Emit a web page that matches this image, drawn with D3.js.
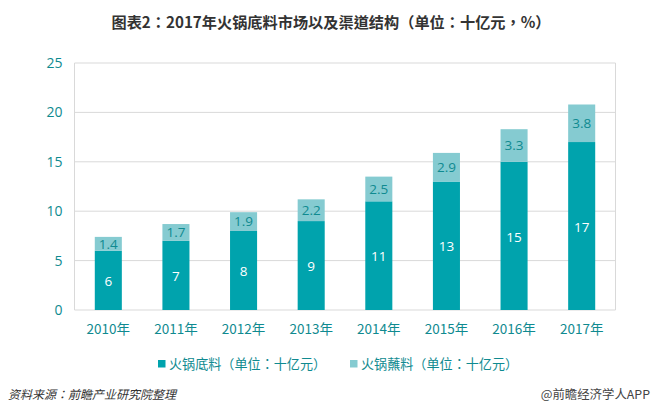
<!DOCTYPE html>
<html>
<head>
<meta charset="utf-8">
<script src="https://cdn.jsdelivr.net/npm/d3@7"></script>
<style>
  html, body { margin: 0; padding: 0; background: #fff; overflow: hidden; }
  svg { display: block; }
  text { font-family: "Noto Sans CJK TC", "Open Sans", sans-serif; }
</style>
</head>
<body>
<div id="chart"></div>
<script>
const years = ['2010年', '2011年', '2012年', '2013年', '2014年', '2015年', '2016年', '2017年'];
const baseValues = [6, 7, 8, 9, 11, 13, 15, 17];
const sauceValues = [1.4, 1.7, 1.9, 2.2, 2.5, 2.9, 3.3, 3.8];
const yTicks = [0, 5, 10, 15, 20, 25];
const legendLabels = ['火锅底料（单位：十亿元）', '火锅蘸料（单位：十亿元）'];
const chartTitle = '图表2：2017年火锅底料市场以及渠道结构（单位：十亿元，%）';
const sourceText = '资料来源：前瞻产业研究院整理';
const brandText = '@前瞻经济学人APP';

const width = 659, height = 413;
const margin = { top: 63, right: 43.5, bottom: 103, left: 74.5 };
const innerWidth = width - margin.left - margin.right;
const innerHeight = height - margin.top - margin.bottom;

const baseColor = '#00a3ad', sauceColor = '#85cbd1', tealText = '#0f8a90', gridColor = '#d9d9d9';

const svg = d3.select('#chart').append('svg').attr('width', width).attr('height', height);

svg.append('text')
  .attr('x', 331).attr('y', 28)
  .attr('text-anchor', 'middle')
  .attr('font-size', 15.2).attr('font-weight', 700).attr('fill', '#333')
  .text(chartTitle);

const g = svg.append('g').attr('transform', `translate(${margin.left},${margin.top})`);

const x = d3.scaleBand().domain(years).range([0, innerWidth]).paddingInner(0.6).paddingOuter(0.3);
const y = d3.scaleLinear().domain([0, 25]).range([innerHeight, 0]);

// gridlines + frame lines
g.selectAll('.grid').data(yTicks).enter().append('line')
  .attr('x1', 0).attr('x2', innerWidth)
  .attr('y1', d => y(d)).attr('y2', d => y(d))
  .attr('stroke', gridColor).attr('stroke-width', 1);
g.append('line').attr('y1', 0).attr('y2', innerHeight).attr('stroke', gridColor);
g.append('line').attr('x1', innerWidth).attr('x2', innerWidth)
  .attr('y1', 0).attr('y2', innerHeight).attr('stroke', gridColor);

// y axis labels
const yAxis = g.append('g').call(d3.axisLeft(y).tickValues(yTicks).tickSize(0).tickPadding(12));
yAxis.select('.domain').remove();
yAxis.selectAll('text').attr('font-size', 14).attr('fill', tealText)
  .style('font-family', '"Open Sans", sans-serif');

// x axis labels
const xAxis = g.append('g').attr('transform', `translate(0,${innerHeight})`)
  .call(d3.axisBottom(x).tickSize(0).tickPadding(14));
xAxis.select('.domain').remove();
xAxis.selectAll('text').attr('font-size', 13.5).attr('fill', tealText);

// bars
g.selectAll('.base').data(years).enter().append('rect')
  .attr('x', d => x(d)).attr('width', x.bandwidth())
  .attr('y', (d, i) => y(baseValues[i]))
  .attr('height', (d, i) => y(0) - y(baseValues[i]))
  .attr('fill', baseColor);
g.selectAll('.sauce').data(years).enter().append('rect')
  .attr('x', d => x(d)).attr('width', x.bandwidth())
  .attr('y', (d, i) => y(baseValues[i] + sauceValues[i]))
  .attr('height', (d, i) => y(baseValues[i]) - y(baseValues[i] + sauceValues[i]))
  .attr('fill', sauceColor);

// value labels
g.selectAll('.baseLabel').data(years).enter().append('text')
  .attr('x', d => x(d) + x.bandwidth() / 2)
  .attr('y', (d, i) => y(baseValues[i] / 2))
  .attr('dy', '0.42em').attr('text-anchor', 'middle')
  .attr('font-size', 13.5).attr('fill', '#fff')
  .style('font-family', '"Open Sans", sans-serif')
  .text((d, i) => baseValues[i]);
g.selectAll('.sauceLabel').data(years).enter().append('text')
  .attr('x', d => x(d) + x.bandwidth() / 2)
  .attr('y', (d, i) => y(baseValues[i] + sauceValues[i] / 2))
  .attr('dy', '0.36em').attr('text-anchor', 'middle')
  .attr('font-size', 13.5).attr('fill', tealText)
  .style('font-family', '"Open Sans", sans-serif')
  .text((d, i) => sauceValues[i]);

// legend
const legendX = [158, 350];
const legendColors = [baseColor, sauceColor];
const legend = svg.selectAll('.legend').data(legendLabels).enter().append('g')
  .attr('transform', (d, i) => `translate(${legendX[i]},364)`);
legend.append('rect').attr('y', -4).attr('width', 7.5).attr('height', 7.5)
  .attr('fill', (d, i) => legendColors[i]);
legend.append('text').attr('x', 11).attr('dy', '0.36em')
  .attr('font-size', 13.1).attr('fill', tealText)
  .text(d => d);

// footer
svg.append('text').attr('x', 8).attr('y', 399)
  .attr('font-size', 12).attr('font-style', 'italic').attr('fill', '#333')
  .text(sourceText);
svg.append('text').attr('x', 650).attr('y', 399).attr('text-anchor', 'end')
  .attr('font-size', 12.4).attr('fill', '#444')
  .text(brandText);
</script>
</body>
</html>
